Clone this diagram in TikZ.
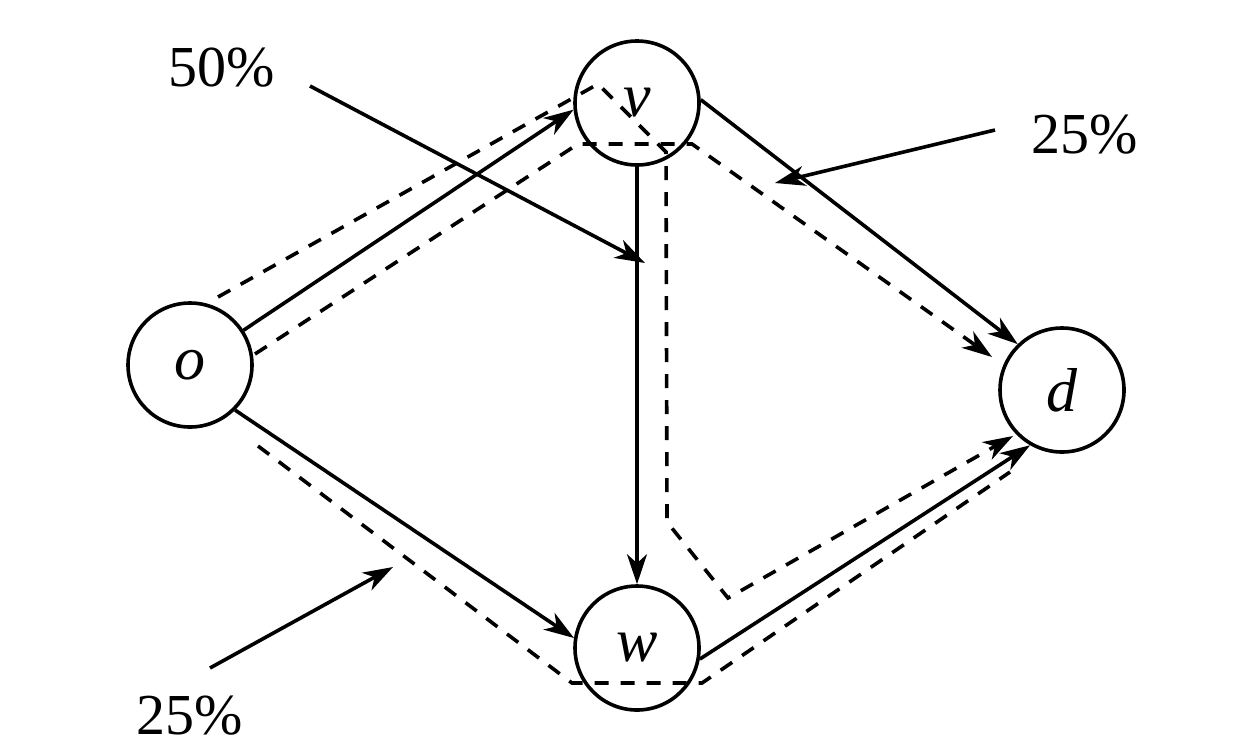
\documentclass[tikz,border=0pt]{standalone}
\usepackage{fontspec}
\setmainfont{Liberation Serif}
\usetikzlibrary{arrows.meta}
\begin{document}
\begin{tikzpicture}[x=0.5pt,y=-0.5pt,
  vertex/.style={circle,draw,line width=1.8pt,minimum size=62pt,inner sep=0pt,font=\fontsize{31}{31}\selectfont\itshape},
  arr/.style={line width=1.8pt,-{Stealth[length=15pt,width=10pt,inset=4.5pt]}},
  flow/.style={line width=1.8pt,dash pattern=on 7pt off 6pt},
  flowarr/.style={flow,-{Stealth[length=15pt,width=10pt,inset=4.5pt]}},
  pct/.style={font=\fontsize{29}{29}\selectfont}]
\useasboundingbox (0,0) rectangle (1240,750);
% nodes
\node[vertex] (o) at (190,365) {o};
\node[vertex] (v) at (637,103) {v};
\node[vertex] (w) at (637,648) {w};
\node[vertex] (d) at (1062,390) {d};
% solid edges
\draw[arr] (o.33) -- (v.186);
\draw[arr] (v.3) -- (d.134);
\draw[arr] (v.south) -- (w.north);
\draw[arr] (o.-45) -- (w.171);
\draw[arr] (w.-10) -- (d.240);
% dashed flow paths
\coordinate (a1) at (218,297);
\coordinate (a2) at (598,84);
\coordinate (a3) at (666,152);
\coordinate (a4) at (667,522);
\coordinate (a5) at (728,598);
\coordinate (a6) at (1013,436);
\draw[flowarr] (a1) -- (a2) -- (a3) -- (a4) -- (a5) -- (a6);
\coordinate (b1) at (255,354);
\coordinate (b2) at (578,144);
\coordinate (b3) at (692,144);
\coordinate (b4) at (992,357);
\draw[flowarr] (b1) -- (b2) -- (b3) -- (b4);
\coordinate (c1) at (258,446);
\coordinate (c2) at (572,683);
\coordinate (c3) at (702,683);
\coordinate (c4) at (1010,472);
\draw[flow] (c1) -- (c2) -- (c3) -- (c4);
% labels
\node[pct] (l50) at (222,68) {50\%};
\node[pct] (l25a) at (1085,135) {25\%};
\node[pct] (l25b) at (190,716) {25\%};
\coordinate (s50) at (310,86);
\coordinate (t50) at (645,263);
\draw[arr] (s50) -- (t50);
\coordinate (s25a) at (995,130);
\coordinate (t25a) at (775,183);
\draw[arr] (s25a) -- (t25a);
\coordinate (s25b) at (210,668);
\coordinate (t25b) at (393,567);
\draw[arr] (s25b) -- (t25b);
\end{tikzpicture}
\end{document}
